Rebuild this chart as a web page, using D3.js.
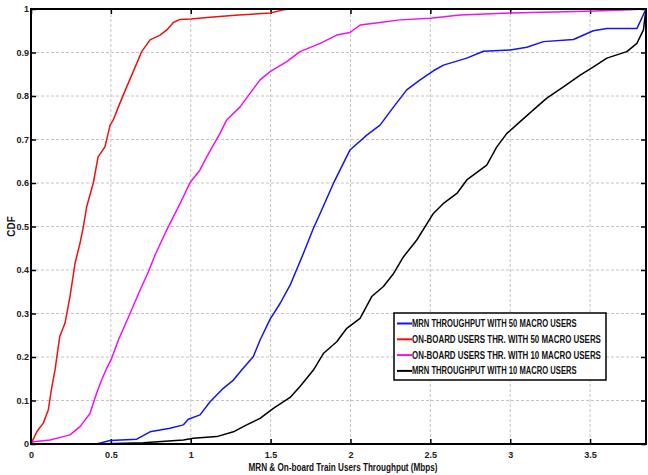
<!DOCTYPE html>
<html>
<head>
<meta charset="utf-8">
<script src="https://cdn.jsdelivr.net/npm/d3@7"></script>
<style>
  body { margin: 0; background: #fff; }
  svg { display: block; font-family: "Liberation Sans", Arial, sans-serif; }
</style>
</head>
<body>
<svg class="chart"></svg>
<script>
// CDF curves (throughput in Mbps, cdf 0..1)
let mrn50X = [0.41, 0.495, 0.662, 0.745, 0.87, 0.954, 0.985, 1.058, 1.121, 1.204, 1.267, 1.319, 1.392, 1.434, 1.497, 1.559, 1.622, 1.705, 1.768, 1.81, 1.893, 1.997, 2.102, 2.185, 2.27, 2.352, 2.436, 2.519, 2.582, 2.728, 2.832, 3.0, 3.104, 3.208, 3.396, 3.52, 3.605, 3.793, 3.85];
let mrn50Y = [0, 0.008, 0.011, 0.028, 0.036, 0.044, 0.057, 0.067, 0.097, 0.128, 0.147, 0.17, 0.201, 0.239, 0.287, 0.323, 0.365, 0.438, 0.496, 0.53, 0.599, 0.676, 0.71, 0.733, 0.775, 0.814, 0.837, 0.858, 0.871, 0.887, 0.903, 0.906, 0.912, 0.925, 0.93, 0.95, 0.955, 0.955, 1.0];

let onb50X = [0, 0.036, 0.077, 0.108, 0.13, 0.15, 0.18, 0.213, 0.244, 0.276, 0.307, 0.328, 0.349, 0.39, 0.42, 0.463, 0.495, 0.515, 0.547, 0.599, 0.662, 0.693, 0.745, 0.808, 0.85, 0.891, 0.933, 1.0, 1.12, 1.3, 1.497, 1.58, 1.62];
let onb50Y = [0, 0.028, 0.048, 0.078, 0.13, 0.17, 0.247, 0.278, 0.339, 0.416, 0.462, 0.5, 0.546, 0.6, 0.66, 0.683, 0.733, 0.745, 0.775, 0.821, 0.875, 0.902, 0.929, 0.94, 0.952, 0.969, 0.976, 0.977, 0.981, 0.986, 0.991, 0.998, 1.0];

let onb10X = [0, 0.015, 0.119, 0.202, 0.244, 0.307, 0.369, 0.411, 0.442, 0.474, 0.505, 0.547, 0.62, 0.683, 0.735, 0.776, 0.839, 0.891, 0.944, 0.996, 1.058, 1.1, 1.183, 1.225, 1.309, 1.371, 1.434, 1.497, 1.601, 1.684, 1.81, 1.914, 1.997, 2.06, 2.185, 2.31, 2.5, 2.686, 3.0, 3.48, 3.75, 3.84];
let onb10Y = [0, 0.005, 0.009, 0.017, 0.021, 0.04, 0.07, 0.117, 0.147, 0.174, 0.197, 0.239, 0.3, 0.354, 0.396, 0.434, 0.484, 0.522, 0.561, 0.601, 0.63, 0.66, 0.714, 0.745, 0.775, 0.806, 0.837, 0.856, 0.879, 0.902, 0.921, 0.94, 0.946, 0.963, 0.969, 0.975, 0.979, 0.986, 0.991, 0.995, 0.998, 1.0];

let mrn10X = [0.41, 0.703, 0.954, 1.016, 1.163, 1.267, 1.35, 1.434, 1.517, 1.622, 1.684, 1.768, 1.83, 1.914, 1.977, 2.06, 2.133, 2.206, 2.27, 2.331, 2.415, 2.519, 2.582, 2.666, 2.728, 2.853, 2.916, 2.979, 3.062, 3.145, 3.229, 3.333, 3.438, 3.521, 3.605, 3.73, 3.793, 3.834, 3.85];
let mrn10Y = [0, 0.003, 0.009, 0.013, 0.017, 0.028, 0.044, 0.059, 0.082, 0.107, 0.132, 0.17, 0.208, 0.235, 0.266, 0.289, 0.339, 0.362, 0.392, 0.43, 0.469, 0.53, 0.553, 0.576, 0.607, 0.641, 0.683, 0.714, 0.741, 0.768, 0.795, 0.821, 0.848, 0.867, 0.887, 0.902, 0.921, 0.952, 1.0];

let seriesNames = [
  "MRN THROUGHPUT WITH 50 MACRO USERS",
  "ON-BOARD USERS THR. WITH 50 MACRO USERS",
  "ON-BOARD USERS THR. WITH 10 MACRO USERS",
  "MRN THROUGHPUT WITH 10 MACRO USERS"
];
let seriesColors = ["#1414f0", "#f01010", "#f010f0", "#000000"];

let xTicks = [0, 0.5, 1, 1.5, 2, 2.5, 3, 3.5];
let yTicks = [0, 0.1, 0.2, 0.3, 0.4, 0.5, 0.6, 0.7, 0.8, 0.9, 1];

let svgWidth = 648, svgHeight = 475;
let margin = {top: 9, right: 2, bottom: 31, left: 31};
let w = svgWidth - margin.left - margin.right;
let h = svgHeight - margin.top - margin.bottom;

// zip the x/y arrays into point lists
let series = [[mrn50X, mrn50Y], [onb50X, onb50Y], [onb10X, onb10Y], [mrn10X, mrn10Y]]
  .map((s, i) => ({
    name: seriesNames[i],
    color: seriesColors[i],
    pts: s[0].map((x, j) => [x, s[1][j]])
  }));

let xScale = d3.scaleLinear().domain([0, 3.85]).range([0, w]);
let yScale = d3.scaleLinear().domain([0, 1]).range([h, 0]);

let svg = d3.select(".chart")
  .attr("width", svgWidth)
  .attr("height", svgHeight);

let g = svg.append("g")
  .attr("transform", "translate(" + margin.left + "," + margin.top + ")");

// dashed grid first so everything sits on top
g.append("g").selectAll("line")
  .data(xTicks.slice(1))
  .enter().append("line")
  .attr("x1", d => xScale(d)).attr("x2", d => xScale(d))
  .attr("y1", 0).attr("y2", h)
  .attr("stroke", "#c4c4c4").attr("stroke-dasharray", "3,2");

g.append("g").selectAll("line")
  .data(yTicks.slice(1, -1))
  .enter().append("line")
  .attr("y1", d => yScale(d)).attr("y2", d => yScale(d))
  .attr("x1", 0).attr("x2", w)
  .attr("stroke", "#c4c4c4").attr("stroke-dasharray", "3,2");

// axes - inward ticks like matlab
let xAxis = d3.axisBottom(xScale).tickValues(xTicks).tickSize(-5).tickPadding(8).tickFormat(d3.format("~g"));
let yAxis = d3.axisLeft(yScale).tickValues(yTicks).tickSize(-5).tickPadding(2).tickFormat(d3.format("~g"));

g.append("g").attr("class", "ax")
  .attr("transform", "translate(0," + h + ")")
  .call(xAxis);
g.append("g").attr("class", "ax")
  .call(yAxis);
// top + right ticks, no labels
g.append("g").attr("class", "ax")
  .call(d3.axisTop(xScale).tickValues(xTicks).tickSize(-5).tickFormat(""));
g.append("g").attr("class", "ax")
  .attr("transform", "translate(" + w + ",0)")
  .call(d3.axisRight(yScale).tickValues(yTicks).tickSize(-5).tickFormat(""));

g.selectAll(".ax .domain").remove();
g.selectAll(".ax line").attr("stroke", "#000").attr("stroke-width", 1.5);
g.selectAll(".ax text")
  .attr("fill", "#222")
  .style("font-size", "9px")
  .style("font-weight", "bold");

// the curves
let line = d3.line()
  .x(d => xScale(d[0]))
  .y(d => yScale(d[1]));

g.selectAll(".curve")
  .data(series)
  .enter().append("path")
  .attr("class", "curve")
  .attr("d", d => line(d.pts))
  .attr("fill", "none")
  .attr("stroke", d => d.color)
  .attr("stroke-width", 1.5)
  .attr("stroke-linejoin", "round");

// box round the plot
g.append("rect")
  .attr("width", w).attr("height", h)
  .attr("fill", "none")
  .attr("stroke", "#000")
  .attr("stroke-width", 2);

// legend
let legX = 394 - margin.left, legY = 313 - margin.top;
let leg = g.append("g").attr("transform", "translate(" + legX + "," + legY + ")");
leg.append("rect")
  .attr("width", 212).attr("height", 67)
  .attr("fill", "#fff")
  .attr("stroke", "#000").attr("stroke-width", 1.5);

let rows = leg.selectAll(".row")
  .data(series)
  .enter().append("g")
  .attr("transform", (d, i) => "translate(0," + (10.5 + i * 15.8) + ")");
rows.append("line")
  .attr("x1", 3).attr("x2", 18)
  .attr("stroke", d => d.color).attr("stroke-width", 2);
// squeeze the text sideways so it looks like the narrow matlab font
rows.append("g")
  .attr("transform", "translate(18,0)")
  .append("text")
  .attr("y", 3.5)
  .style("font-size", "10px")
  .style("font-weight", "bold")
  .attr("fill", "#111")
  .text(d => d.name)
  .each(function(d) {
    let len = this.getComputedTextLength();
    let target = d.name.length * 4.85;
    d3.select(this).attr("transform", "scale(" + (target / len) + ",1)");
  });

// axis labels
svg.append("text")
  .attr("x", 343).attr("y", 471)
  .attr("text-anchor", "middle")
  .style("font-size", "10px")
  .style("font-weight", "bold")
  .attr("fill", "#111")
  .attr("textLength", 189)
  .attr("lengthAdjust", "spacingAndGlyphs")
  .text("MRN & On-board Train Users Throughput  (Mbps)");

svg.append("text")
  .attr("transform", "translate(15," + (margin.top + h / 2) + ") rotate(-90)")
  .attr("text-anchor", "middle")
  .style("font-size", "10px")
  .style("font-weight", "bold")
  .attr("fill", "#111")
  .text("CDF");
</script>
</body>
</html>
